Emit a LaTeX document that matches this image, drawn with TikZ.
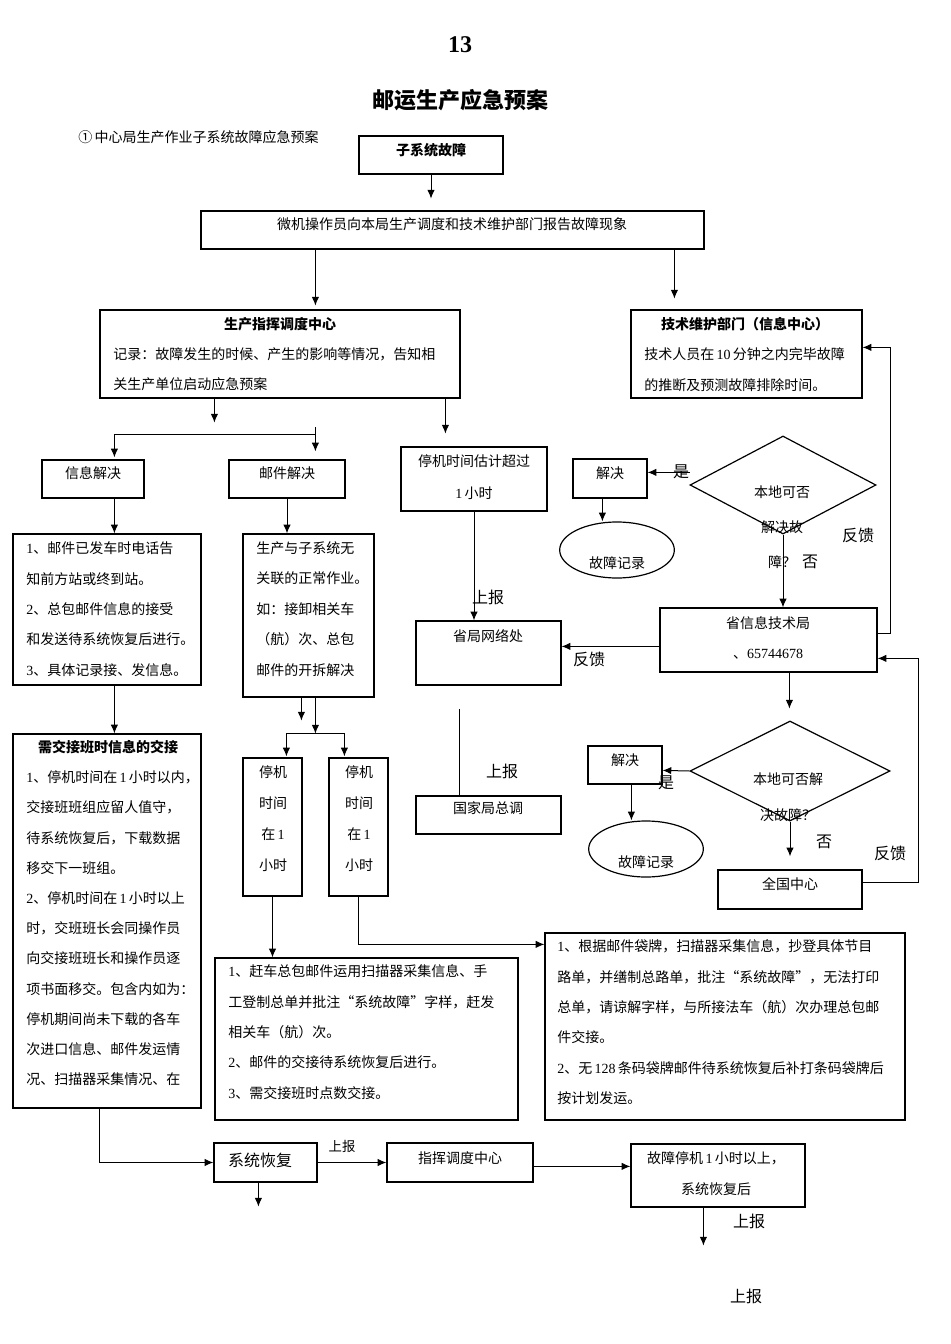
\documentclass[tikz,border=0pt]{standalone}
\usepackage{fontspec}
\setmainfont{Noto Sans CJK SC}
\newfontfamily\tnr{Liberation Serif}
\usepackage{tikz}
\usetikzlibrary{arrows.meta,shapes.geometric,fit}

\tikzset{
  box/.style={draw, line width=0.9pt, inner sep=0pt},
  oval/.style={draw, ellipse, line width=0.9pt, inner sep=0pt, minimum width=86pt, minimum height=42pt},
  ask/.style={draw, diamond, line width=0.9pt, inner sep=0pt},
  txt/.style={inner sep=0pt, font=\fontsize{10.5}{22.8}\selectfont},
  para/.style={txt, align=left, anchor=north west},
  mid/.style={txt, align=center, anchor=north},
  head/.style={inner sep=0pt, font=\bfseries\fontsize{10.5}{12}\selectfont},
  big/.style={inner sep=0pt, font=\fontsize{12}{14}\selectfont},
  link/.style={line width=0.75pt, -{Latex[length=6.5pt,width=5.5pt]}},
  wire/.style={line width=0.75pt},
}

\begin{document}
\begin{tikzpicture}[x=0.75pt, y=-0.75pt]
\useasboundingbox (0,0) rectangle (950,1344);

\node[inner sep=0pt, font=\tnr\bfseries\fontsize{18}{20}\selectfont] (page) at (460,45) {13};
\node[inner sep=0pt, font=\bfseries\fontsize{16.5}{18}\selectfont] (title) at (460,100) {邮运生产应急预案};
\node[txt, anchor=west] (plan) at (78,137) {①\,中心局生产作业子系统故障应急预案};

\node[box, fit={(359,136) (503,174)}] (fault) {};
\node[head] at (431,150) {子系统故障};
\node[box, fit={(201,211) (704,249)}] (report) {};
\node[txt] at (452,224) {微机操作员向本局生产调度和技术维护部门报告故障现象};

\node[box, fit={(100,310) (460,398)}] (dispatch) {};
\node[head] at (280,324) {生产指挥调度中心};
\node[para] at (113,347.5) {记录：故障发生的时候、产生的影响等情况，告知相\\关生产单位启动应急预案};
\node[box, fit={(631,310) (862,398)}] (techdept) {};
\node[head] at (745,324) {技术维护部门（信息中心）};
\node[para] at (644,347.5) {技术人员在\,{\tnr 10}\,分钟之内完毕故障\\的推断及预测故障排除时间。};

\node[box, fit={(42,460) (144,498)}] (infosol) {};
\node[txt] at (93,473) {信息解决};
\node[box, fit={(229,460) (345,498)}] (mailsol) {};
\node[txt] at (287,473) {邮件解决};

\node[box, fit={(13,534) (201,685)}] (infolist) {};
\node[para] at (26,541.5) {{\tnr 1}、邮件已发车时电话告\\知前方站或终到站。\\{\tnr 2}、总包邮件信息的接受\\和发送待系统恢复后进行。\\{\tnr 3}、具体记录接、发信息。};
\node[box, fit={(243,534) (374,697)}] (maillist) {};
\node[para] at (256,541.5) {生产与子系统无\\关联的正常作业。\\如：接卸相关车\\（航）次、总包\\邮件的开拆解决};

\node[box, fit={(401,447) (547,511)}] (overhour) {};
\node[mid, font=\fontsize{10.5}{24}\selectfont] at (474,454.5) {停机时间估计超过\\{\tnr 1}\,小时};
\node[box, fit={(416,621) (561,685)}] (provnet) {};
\node[txt] at (488,636) {省局网络处};
\node[big] at (488,597) {上报};
\node[box, fit={(416,796) (561,834)}] (national) {};
\node[txt] at (488,808) {国家局总调};
\node[big] at (502,771) {上报};

\node[ask, minimum width=139.5pt, minimum height=73.5pt] (askA) at (783,485) {};
\node[mid, font=\fontsize{10.5}{26.25}\selectfont] at (782,485.5) {本地可否\\解决故\\障？};
\node[big] at (810,562) {否};
\node[box, fit={(573,459) (647,498)}] (solveA) {};
\node[txt] at (610,473) {解决};
\node[big] at (681,472) {是};
\node[oval] (recA) at (617,550) {};
\node[txt] at (617,563) {故障记录};
\node[big] at (858,535) {反馈};

\node[box, fit={(660,608) (877,672)}] (prov) {};
\node[mid, font=\fontsize{10.5}{22.5}\selectfont] at (768,616.5) {省信息技术局\\、{\tnr 65744678}};
\node[big] at (589,659) {反馈};

\node[ask, minimum width=150pt, minimum height=75pt] (askB) at (790,771) {};
\node[mid, font=\fontsize{10.5}{27}\selectfont] at (788,772.5) {本地可否解\\决故障？};
\node[box, fit={(588,746) (662,784)}] (solveB) {};
\node[txt] at (625,760) {解决};
\node[big] at (666,783) {是};
\node[oval] (recB) at (646,849) {};
\node[txt] at (646,862) {故障记录};
\node[big] at (824,842) {否};
\node[big] at (890,853) {反馈};
\node[box, fit={(718,870) (862,909)}] (center) {};
\node[txt] at (790,884) {全国中心};

\node[box, fit={(13,734) (201,1108)}] (handover) {};
\node[head] at (108,747) {需交接班时信息的交接};
\node[para, font=\fontsize{10.5}{22.65}\selectfont] at (26,770.5) {{\tnr 1}、停机时间在\,{\tnr 1}\,小时以内，\\交接班班组应留人值守，\\待系统恢复后，下载数据\\移交下一班组。\\{\tnr 2}、停机时间在\,{\tnr 1}\,小时以上\\时，交班班长会同操作员\\向交接班班长和操作员逐\\项书面移交。包含内如为：\\停机期间尚未下载的各车\\次进口信息、邮件发运情\\况、扫描器采集情况、在};

\node[box, fit={(243,758) (302,896)}] (stopA) {};
\node[mid, font=\fontsize{10.5}{23.25}\selectfont] at (273,765.5) {停机\\时间\\在\,{\tnr 1}\\小时};
\node[box, fit={(329,758) (388,896)}] (stopB) {};
\node[mid, font=\fontsize{10.5}{23.25}\selectfont] at (359,765.5) {停机\\时间\\在\,{\tnr 1}\\小时};

\node[box, fit={(215,958) (518,1120)}] (rushbox) {};
\node[para] at (228,964.5) {{\tnr 1}、赶车总包邮件运用扫描器采集信息、手\\工登制总单并批注“系统故障”字样，赶发\\相关车（航）次。\\{\tnr 2}、邮件的交接待系统恢复后进行。\\{\tnr 3}、需交接班时点数交接。};
\node[box, fit={(545,933) (905,1120)}] (tagbox) {};
\node[para] at (557,939.5) {{\tnr 1}、根据邮件袋牌，扫描器采集信息，抄登具体节目\\路单，并缮制总路单，批注“系统故障”，无法打印\\总单，请谅解字样，与所接法车（航）次办理总包邮\\件交接。\\{\tnr 2}、无\,{\tnr 128}\,条码袋牌邮件待系统恢复后补打条码袋牌后\\按计划发运。};

\node[box, fit={(214,1143) (317,1182)}] (recover) {};
\node[big] at (260,1160) {系统恢复};
\node[inner sep=0pt, font=\fontsize{10}{12}\selectfont] at (342,1146) {上报};
\node[box, fit={(387,1143) (533,1182)}] (command) {};
\node[txt] at (460,1158) {指挥调度中心};
\node[box, fit={(631,1144) (805,1207)}] (after) {};
\node[mid, font=\fontsize{10.5}{23.25}\selectfont] at (716,1151.5) {故障停机\,{\tnr 1}\,小时以上，\\系统恢复后};
\node[big] at (749,1221) {上报};
\node[big] at (746,1296) {上报};

\draw[link] (fault.south) -- ++(0,24);
\draw[link] ([shift={(115,0)}]report.south west) -- ++(0,56);
\draw[link] ([shift={(474,0)}]report.south west) -- ++(0,49);
\draw[link] ([shift={(115,0)}]dispatch.south west) -- ++(0,24);
\draw[link] ([shift={(346,0)}]dispatch.south west) -- ++(0,35);
\draw[link] ([shift={(87,-32)}]mailsol.north west) -- ([shift={(87,-8)}]mailsol.north west);
\draw[link] ([shift={(87,-25)}]mailsol.north west) -| ([shift={(73,-2)}]infosol.north west);
\draw[link] ([shift={(73,0)}]infosol.south west) -- ([shift={(102,0)}]infolist.north west);
\draw[link] (mailsol.south) -- (mailsol.south |- maillist.north);
\draw[link] ([shift={(102,0)}]infolist.south west) -- ([shift={(102,0)}]handover.north west);
\draw[link] ([shift={(59,0)}]maillist.south west) -- ++(0,23);
\draw[link] ([shift={(73,0)}]maillist.south west) -- ++(0,36);
\draw[link] ([shift={(73,36)}]maillist.south west) -| ([shift={(44,-1)}]stopA.north west);
\draw[link] ([shift={(73,36)}]maillist.south west) -| ([shift={(16,-1)}]stopB.north west);
\draw[link] (stopA.south) -- (stopA.south |- rushbox.north);
\draw[link] (stopB.south) |- ([shift={(0,12)}]tagbox.north west);
\draw[link] ([shift={(87,0)}]handover.south west) |- (recover.west);
\draw[link] (recover.east) -- (command.west);
\draw[link] ([shift={(45,0)}]recover.south west) -- ++(0,24);
\draw[link] ([shift={(0,24)}]command.north east) -- ([shift={(0,23)}]after.north west);
\draw[link] ([shift={(73,0)}]after.south west) -- ++(0,38);
\draw[link] (overhour.south) -- (overhour.south |- provnet.north);
\draw[wire] ([shift={(44,0)}]national.north west) -- ++(0,-86);
\draw[link] (askA.south) -- (askA.south |- prov.north);
\draw[link] ([shift={(42,14)}]solveA.north east) -- ([shift={(0,14)}]solveA.north east);
\draw[link] ([shift={(30,0)}]solveA.south west |- recA.north) ++(0,-24) -- ++(0,24);
\draw[link] ([shift={(0,26)}]prov.north east) -- ++(13,0) |- ([shift={(0,38)}]techdept.north east);
\draw[link] ([shift={(0,39)}]prov.north west) -- ([shift={(0,26)}]provnet.north east);
\draw[link] ([shift={(130,0)}]prov.south west) -- ++(0,36);
\draw[link] (askB.west) -- ([shift={(0,25)}]solveB.north east);
\draw[link] ([shift={(44,0)}]solveB.south west) -- ([shift={(44,0)}]solveB.south west |- recB.north);
\draw[link] (askB.south) -- ([shift={(0,-13)}]center.north);
\draw[link] ([shift={(0,13)}]center.north east) -- ++(56,0) |- ([shift={(0,51)}]prov.north east);

\end{tikzpicture}
\end{document}
